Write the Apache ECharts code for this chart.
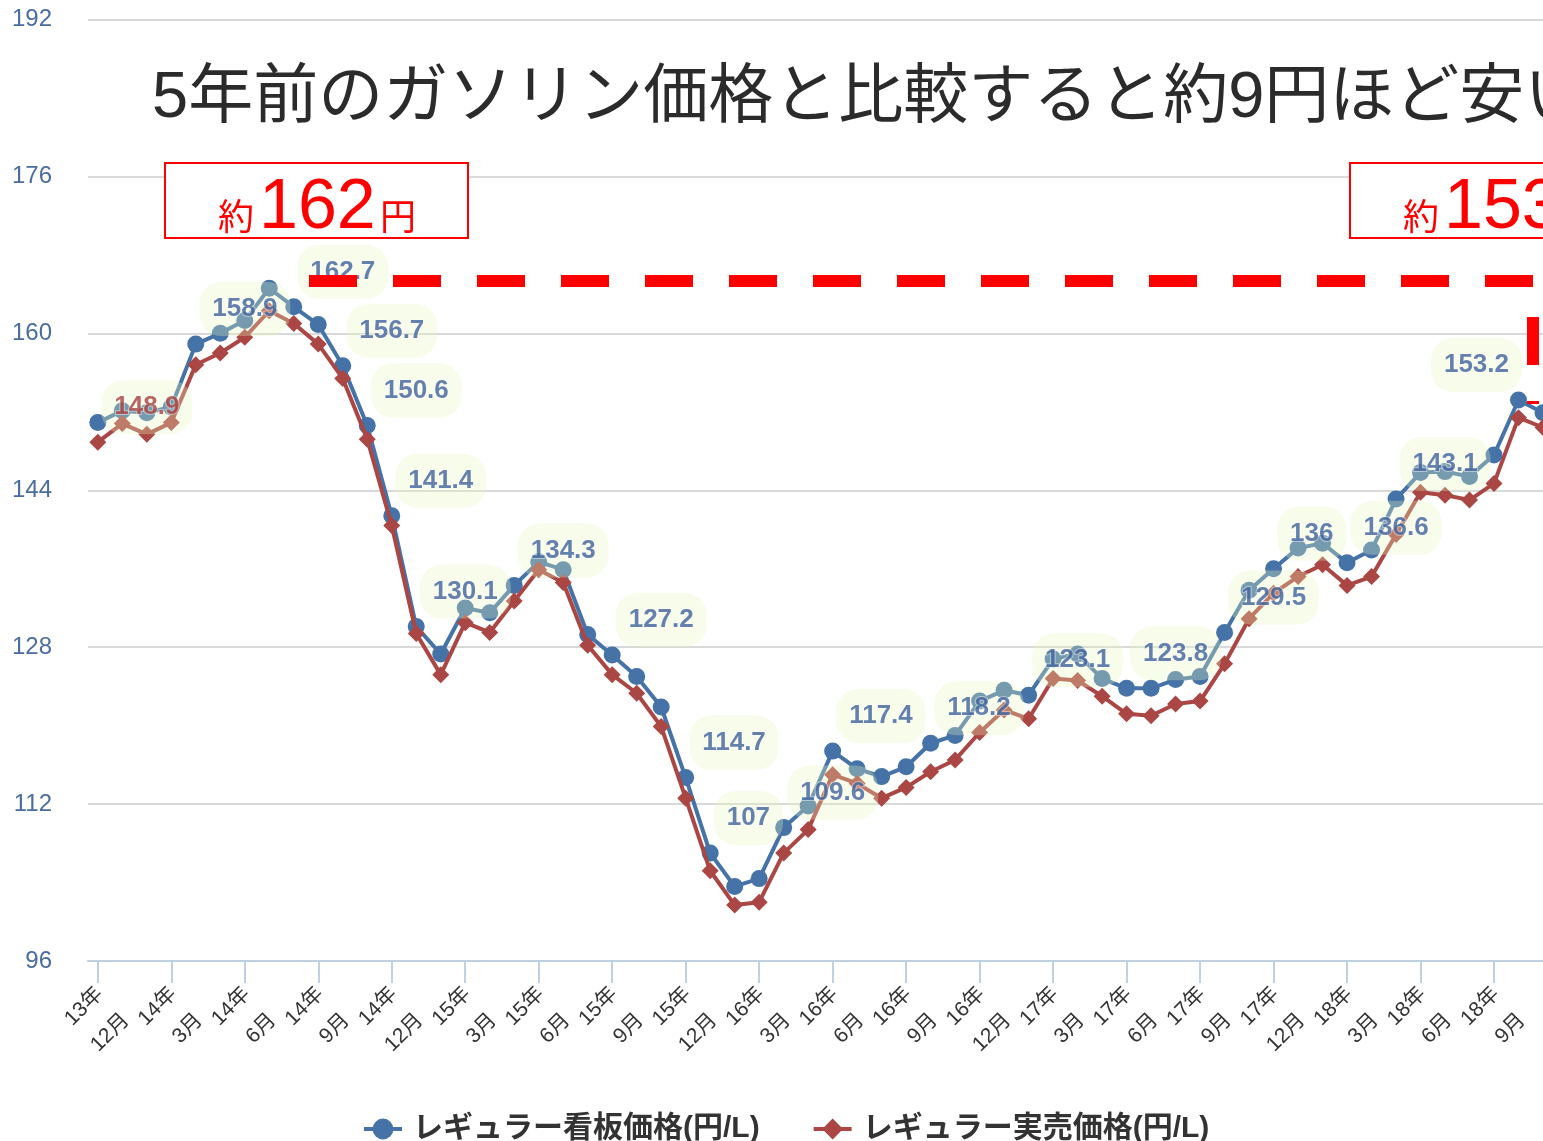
<!DOCTYPE html>
<html>
<head>
<meta charset="utf-8">
<script src="https://cdn.jsdelivr.net/npm/echarts@6/dist/echarts.min.js"></script>
<style>
html,body{margin:0;padding:0;background:#fff;overflow:hidden;}
#chart{width:1600px;height:1141px;}
</style>
</head>
<body>
<div id="chart"></div>
<script>
// Monthly categories (13年12月 .. 18年11月)
const months = [
 '13年12月','14年1月','14年2月','14年3月','14年4月','14年5月','14年6月','14年7月','14年8月','14年9月','14年10月','14年11月',
 '14年12月','15年1月','15年2月','15年3月','15年4月','15年5月','15年6月','15年7月','15年8月','15年9月','15年10月','15年11月',
 '15年12月','16年1月','16年2月','16年3月','16年4月','16年5月','16年6月','16年7月','16年8月','16年9月','16年10月','16年11月',
 '16年12月','17年1月','17年2月','17年3月','17年4月','17年5月','17年6月','17年7月','17年8月','17年9月','17年10月','17年11月',
 '17年12月','18年1月','18年2月','18年3月','18年4月','18年5月','18年6月','18年7月','18年8月','18年9月','18年10月','18年11月'
];
// Tick labels shown on the axis
const tickLabels = ['13年12月','14年3月','14年6月','14年9月','14年12月','15年3月','15年6月','15年9月','15年12月','16年3月',
 '16年6月','16年9月','16年12月','17年3月','17年6月','17年9月','17年12月','18年3月','18年6月','18年9月'];
// レギュラー看板価格(円/L)
const signPrice = [
 150.9,152.1,151.9,152.5,158.9,160.0,161.3,164.6,162.7,160.9,156.7,150.6,
 141.4,130.1,127.3,132.0,131.5,134.3,136.7,135.9,129.3,127.2,125.0,121.9,
 114.7,107.0,103.6,104.4,109.6,111.8,117.4,115.6,114.8,115.8,118.2,119.0,
 122.5,123.6,123.1,126.8,127.3,124.8,123.8,123.8,124.7,125.0,129.5,133.8,
 136.0,138.1,138.6,136.6,137.9,143.1,145.8,145.9,145.4,147.6,153.2,151.9
];
// レギュラー実売価格(円/L)
const salePrice = [
 148.9,150.8,149.7,150.9,156.8,158.0,159.6,162.3,161.0,158.9,155.4,149.2,
 140.4,129.4,125.2,130.5,129.5,132.7,135.9,134.6,128.2,125.2,123.3,119.9,
 112.6,105.2,101.7,102.0,107.0,109.4,115.0,114.1,112.6,113.7,115.3,116.5,
 119.3,121.6,120.7,124.8,124.6,123.0,121.2,121.0,122.2,122.5,126.3,130.9,
 133.5,135.2,136.4,134.3,135.2,139.5,143.8,143.5,143.0,144.7,151.4,150.4
];
// indices of labelled points
const signLabelIdx = [4,8,10,11,12,13,17,21,24,25,28,30,34,38,42,46,48,51,53,58];
const saleLabelIdx = [0];
const seriesNames = ['レギュラー看板価格(円/L)','レギュラー実売価格(円/L)'];
const yTicks = [96,112,128,144,160,176,192];

const BLUE = '#4572a7', RED = '#aa4643';
const tickIdx = tickLabels.map(t => months.indexOf(t));

const labelBase = {
  show: true, position: 'right', distance: 0, offset: [3, -35],
  fontFamily: '"Liberation Sans", Arial, sans-serif', fontWeight: 'bold', fontSize: 26,
  color: '#3f629b', backgroundColor: 'rgba(232,244,190,0.38)', borderRadius: 22,
  padding: [14, 13], textBorderColor: 'rgba(255,255,255,0.55)', textBorderWidth: 2,
  formatter: p => String(p.value[1])
};
const lastSignLabel = signLabelIdx[signLabelIdx.length - 1];
const labelData = signLabelIdx.map(i => ({
  value: [i, signPrice[i]],
  label: i === lastSignLabel ? {position: 'left', offset: [4, -35]} : {}
})).concat(saleLabelIdx.map(i => ({value: [i, salePrice[i]], label: {color: '#a8403d'}})));

const chart = echarts.init(document.getElementById('chart'), null, {renderer: 'canvas'});
const cjk = '"Liberation Sans", "Noto Sans CJK JP", sans-serif';
const mid = {textVerticalAlign: 'middle', verticalAlign: 'middle'};
const staticGraphics = [
  {type: 'text', x: 152, y: 99, z: 100, style: Object.assign({text: '5年前のガソリン価格と比較すると約9円ほど安い',
    font: '65px "Liberation Sans", "Noto Sans CJK JP", sans-serif', fill: '#2b2b2b'}, mid)},
  {type: 'rect', z: 100, shape: {x: 165, y: 163, width: 303, height: 75}, style: {fill: '#fff', stroke: '#ff0000', lineWidth: 2}},
  {type: 'text', x: 218, y: 216, z: 101, style: Object.assign({text: '約', font: '36px "Noto Sans CJK JP", sans-serif', fill: '#ff0000'}, mid)},
  {type: 'text', x: 259, y: 209, z: 101, style: Object.assign({text: '162', font: '70px "Liberation Sans", sans-serif', fill: '#ff0000'}, mid)},
  {type: 'text', x: 380, y: 216, z: 101, style: Object.assign({text: '円', font: '36px "Noto Sans CJK JP", sans-serif', fill: '#ff0000'}, mid)},
  {type: 'rect', z: 100, shape: {x: 1350, y: 163, width: 303, height: 75}, style: {fill: '#fff', stroke: '#ff0000', lineWidth: 2}},
  {type: 'text', x: 1403, y: 216, z: 101, style: Object.assign({text: '約', font: '36px "Noto Sans CJK JP", sans-serif', fill: '#ff0000'}, mid)},
  {type: 'text', x: 1444, y: 209, z: 101, style: Object.assign({text: '153', font: '70px "Liberation Sans", sans-serif', fill: '#ff0000'}, mid)},
  {type: 'text', x: 1565, y: 216, z: 101, style: Object.assign({text: '円', font: '36px "Noto Sans CJK JP", sans-serif', fill: '#ff0000'}, mid)},
  {type: 'polyline', z: 102, shape: {points: [[309, 281], [1533, 281], [1533, 404]]},
   style: {stroke: '#ff0000', lineWidth: 12, lineDash: [48, 36], lineCap: 'butt', fill: null}}
];

chart.setOption({
  animation: false,
  backgroundColor: '#fff',
  grid: {left: 88, right: 8, top: 19.5, bottom: 180},
  legend: {
    data: seriesNames, left: 357, top: 1109, itemWidth: 38, itemHeight: 26, itemGap: 52,
    lineStyle: {width: 4},
    textStyle: {fontSize: 30, fontWeight: 'bold', color: '#333', fontFamily: cjk, padding: [0,0,0,6]}
  },
  xAxis: {
    type: 'value', min: -0.4, max: 61,
    splitLine: {show: false},
    axisLine: {show: true, onZero: false, lineStyle: {color: '#c0d0e0', width: 2}},
    axisTick: {show: true, customValues: tickIdx, length: 22, lineStyle: {color: '#c0d0e0', width: 2}},
    axisLabel: {show: false}
  },
  yAxis: {
    type: 'value', min: yTicks[0], max: yTicks[yTicks.length-1], interval: yTicks[1]-yTicks[0],
    axisLine: {show: false}, axisTick: {show: false},
    splitLine: {lineStyle: {color: '#d9d9d9', width: 2}},
    axisLabel: {fontSize: 24, color: '#4a6c9f', margin: 36, fontFamily: '"Liberation Sans", Arial, sans-serif'}
  },
  series: [
    {name: seriesNames[0], type: 'line', data: signPrice.map((v,i)=>[i,v]), symbol: 'circle', symbolSize: 17,
     lineStyle: {width: 4, color: BLUE}, itemStyle: {color: BLUE, borderWidth: 0}, z: 2, clip: false},
    {name: seriesNames[1], type: 'line', data: salePrice.map((v,i)=>[i,v]), symbol: 'diamond', symbolSize: 17,
     lineStyle: {width: 4, color: RED}, itemStyle: {color: RED, borderWidth: 0}, z: 3, clip: false},
    {name: 'labels', type: 'scatter', data: labelData, symbolSize: 1, itemStyle: {color: 'rgba(0,0,0,0)'},
     label: labelBase, silent: true, z: 5, clip: false}
  ],
  graphic: staticGraphics
});

// rotated two-line tick labels, placed from the axis scale
const tickTexts = tickIdx.map(i => {
  const p = chart.convertToPixel({xAxisIndex: 0, yAxisIndex: 0}, [i, yTicks[0]]);
  const m = months[i], k = m.indexOf('年');
  return {type: 'text', x: p[0] + 15, y: p[1] + 43, rotation: Math.PI / 4, z: 50,
    style: {text: m.slice(0, k + 1) + '\n' + m.slice(k + 1), font: '21px ' + cjk, fill: '#333',
      align: 'right', textAlign: 'right', verticalAlign: 'middle', textVerticalAlign: 'middle', lineHeight: 37}};
});
chart.setOption({graphic: staticGraphics.concat(tickTexts)});
</script>
</body>
</html>
